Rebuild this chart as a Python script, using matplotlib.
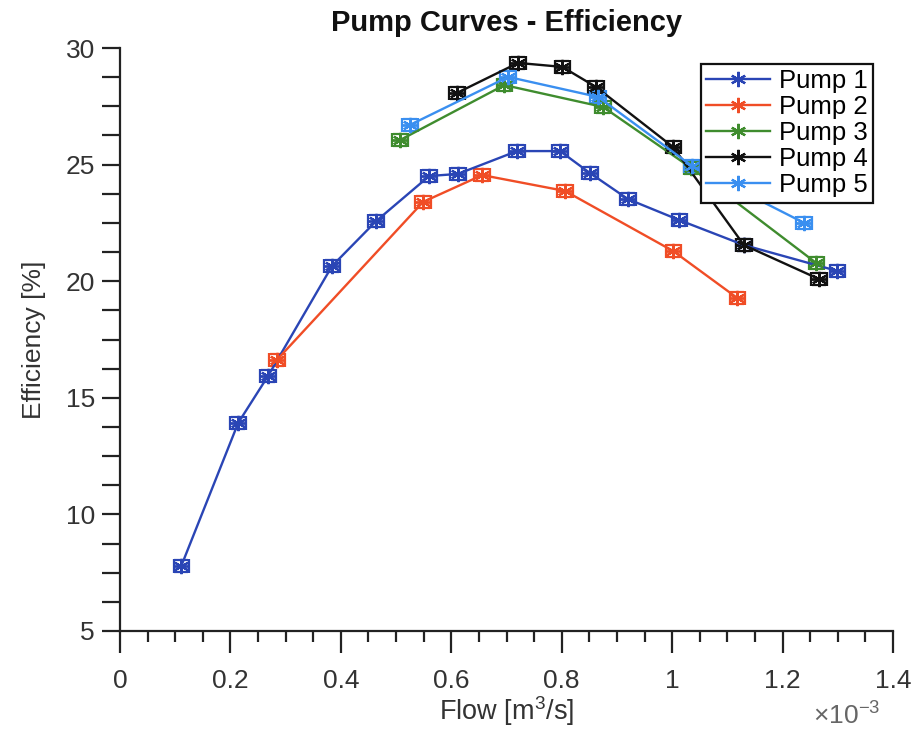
import matplotlib
matplotlib.use("Agg")
import matplotlib.pyplot as plt
from matplotlib.ticker import MultipleLocator, FuncFormatter

plt.rcParams['font.family'] = ['Liberation Sans', 'DejaVu Sans']
plt.rcParams['mathtext.fontset'] = 'custom'
plt.rcParams['mathtext.rm'] = 'Liberation Sans'

# Flow in m^3/s, efficiency in %
pump1_flow = [0.111e-3, 0.214e-3, 0.268e-3, 0.384e-3, 0.464e-3, 0.560e-3, 0.612e-3,
              0.719e-3, 0.797e-3, 0.851e-3, 0.920e-3, 1.013e-3, 1.130e-3, 1.299e-3]
pump1_eff = [7.79, 13.92, 15.93, 20.65, 22.58, 24.51, 24.60,
             25.58, 25.58, 24.64, 23.52, 22.62, 21.55, 20.44]

pump2_flow = [0.284e-3, 0.549e-3, 0.656e-3, 0.806e-3, 1.002e-3, 1.118e-3]
pump2_eff = [16.62, 23.40, 24.55, 23.87, 21.29, 19.28]

pump3_flow = [0.507e-3, 0.696e-3, 0.875e-3, 1.035e-3, 1.261e-3]
pump3_eff = [26.05, 28.41, 27.47, 24.85, 20.78]

pump4_flow = [0.610e-3, 0.721e-3, 0.801e-3, 0.862e-3, 1.002e-3, 1.130e-3, 1.266e-3]
pump4_eff = [28.07, 29.36, 29.19, 28.33, 25.75, 21.55, 20.09]

pump5_flow = [0.525e-3, 0.703e-3, 0.866e-3, 1.036e-3, 1.239e-3]
pump5_eff = [26.70, 28.76, 27.90, 24.94, 22.50]

labels = ['Pump 1', 'Pump 2', 'Pump 3', 'Pump 4', 'Pump 5']
colors = ['#2a45b5', '#f04d26', '#3f8c2e', '#111111', '#3a8ff0']
series = [(pump1_flow, pump1_eff), (pump2_flow, pump2_eff), (pump3_flow, pump3_eff),
          (pump4_flow, pump4_eff), (pump5_flow, pump5_eff)]

fig = plt.figure(figsize=(9.14, 7.34), dpi=100)
ax = fig.add_axes([120/914, 1-631/734, (893-120)/914, (631-48)/734])

asterisk = (6, 2, 0)
handles = []
for (fx, fy), lab, c in zip(series, labels, colors):
    cont = ax.errorbar(fx, fy, xerr=0.014e-3, yerr=0.27, color=c, marker=asterisk,
                       markersize=11, markeredgewidth=1.6,
                       linewidth=1.7, elinewidth=2.0, capsize=5, capthick=2.0, label=lab)
    handles.append(cont.lines[0])

ax.set_xlim(0, 1.4e-3)
ax.set_ylim(5, 30)
ax.xaxis.set_major_locator(MultipleLocator(0.2e-3))
ax.xaxis.set_minor_locator(MultipleLocator(0.05e-3))
ax.yaxis.set_major_locator(MultipleLocator(5))
ax.yaxis.set_minor_locator(MultipleLocator(1.25))
ax.xaxis.set_major_formatter(FuncFormatter(lambda v, p: f"{v*1e3:g}"))

for s in ['top', 'right']:
    ax.spines[s].set_visible(False)
for s in ['left', 'bottom']:
    ax.spines[s].set_linewidth(1.6)
    ax.spines[s].set_color('#222222')

ax.tick_params(axis='x', which='major', direction='out', length=16, width=1.6, labelsize=19, pad=11,
               colors='#222222', labelcolor='#333333')
ax.tick_params(axis='x', which='minor', direction='out', length=8, width=1.6, colors='#222222')
ax.tick_params(axis='y', which='major', direction='out', length=13, width=1.6, labelsize=19, pad=5,
               colors='#222222', labelcolor='#333333')
ax.tick_params(axis='y', which='minor', direction='out', length=13, width=1.6, colors='#222222')

ax.set_xlabel('Flow [m$^3$/s]', fontsize=19.5, color='#333333', labelpad=1)
ax.set_ylabel('Efficiency [%]', fontsize=19, color='#333333', labelpad=14)
ax.set_title('Pump Curves - Efficiency', fontsize=21, fontweight='bold', pad=12, color='#111111')
fig.text(880/914, 1-724/734, r'$\times$10$^{-3}$', fontsize=19, color='#666666', ha='right', va='baseline')

leg = ax.legend(handles=handles, labels=labels, loc='upper right',
                bbox_to_anchor=(873/914, 1-64/734), bbox_transform=fig.transFigure,
                fontsize=18.5, frameon=True, fancybox=False, framealpha=1, edgecolor='#111111',
                borderpad=0.2, labelspacing=0.08, handlelength=2.5, handletextpad=0.35, borderaxespad=0)
leg.get_frame().set_linewidth(1.6)

fig.savefig('out.png', dpi=100)
